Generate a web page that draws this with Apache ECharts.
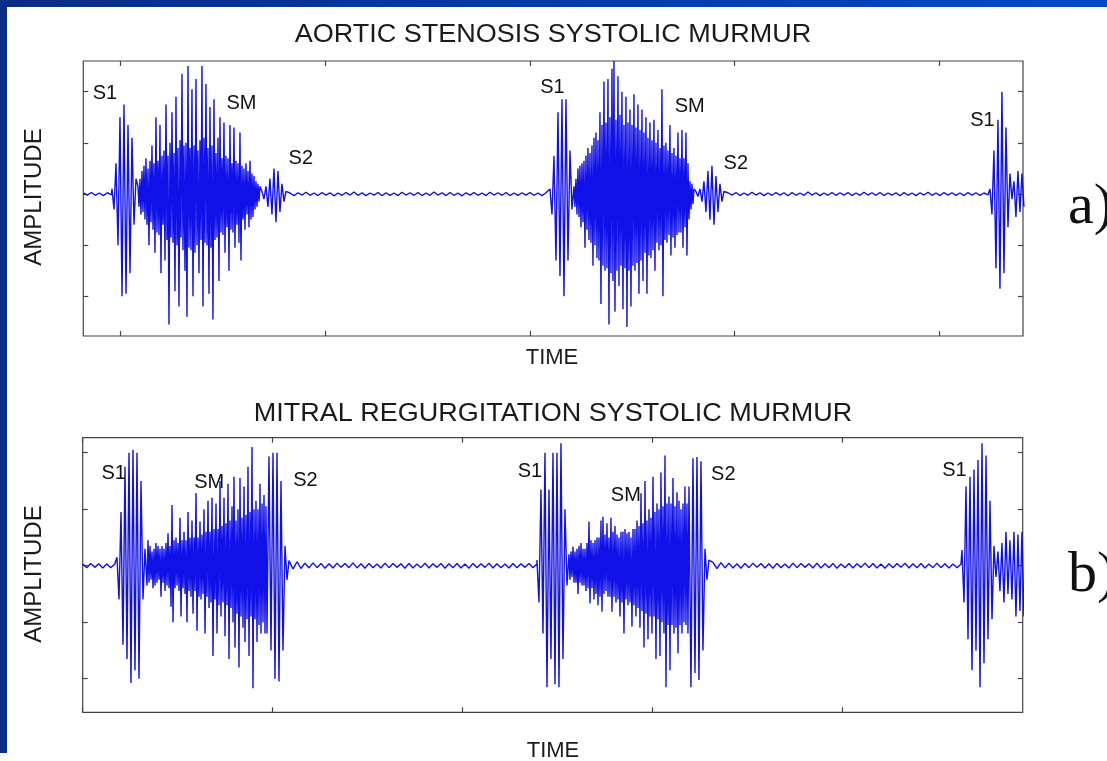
<!DOCTYPE html>
<html>
<head>
<meta charset="utf-8">
<script src="https://cdn.jsdelivr.net/npm/echarts@6/dist/echarts.min.js"></script>
<style>
  html, body { margin: 0; padding: 0; background: #fff; }
  #main { width: 1107px; height: 761px; }
</style>
</head>
<body>
<div id="main"></div>
<script>
// ---- a) aortic stenosis: amplitude samples per segment (read off the trace) ----
const asBase0 = [0.005,-0.004,0.006,-0.005,0.004,-0.006,0.005,-0.003];
const asS1a = [0.02,-0.06,0.12,-0.2,0.3,-0.4,0.35,-0.39,0.27,-0.31,0.22,-0.12,0.06];
const asSMa = [0.03,-0.05,0.06,-0.08,0.09,-0.07,0.11,-0.10,
  0.14,-0.12,0.10,-0.20,0.13,-0.11,0.19,-0.14,0.12,-0.23,
  0.30,-0.15,0.13,-0.16,0.27,-0.31,0.15,-0.12,0.17,-0.26,
  0.35,-0.18,0.15,-0.51,0.20,-0.17,0.32,-0.19,0.16,-0.38,
  0.38,-0.20,0.18,-0.44,0.21,-0.17,0.47,-0.22,0.19,-0.30,
  0.20,-0.48,0.50,-0.21,0.18,-0.22,0.41,-0.40,0.19,-0.23,
  0.45,-0.20,0.17,-0.31,0.21,-0.18,0.50,-0.44,0.22,-0.19,
  0.43,-0.20,0.18,-0.39,0.34,-0.21,0.19,-0.49,0.37,-0.18,
  0.16,-0.17,0.22,-0.34,0.30,-0.15,0.14,-0.16,0.28,-0.23,
  0.15,-0.13,0.14,-0.30,0.27,-0.14,0.12,-0.15,0.26,-0.21,
  0.13,-0.12,0.12,-0.19,0.24,-0.26,0.11,-0.10,0.10,-0.14,
  0.12,-0.08,0.09,-0.13,0.13,-0.10,0.08,-0.09,0.07,-0.06,
  0.05,-0.05,0.04,-0.03,0.03];
const asS2a = [0.01,-0.02,0.03,-0.05,0.06,-0.08,0.10,-0.11,0.09,-0.07,0.04,-0.03,0.01];
const asBase1 = [0.004,-0.006,0.005,-0.004,0.007,-0.005,0.004,-0.006,0.006,-0.004,
  0.005,-0.007,0.004,-0.005,0.006,-0.004,0.008,-0.005,0.005,-0.006,
  0.004,-0.004,0.006,-0.007,0.005,-0.005,0.004,-0.006,0.007,-0.004,
  0.005,-0.005,0.006,-0.006,0.004,-0.005,0.008,-0.004,0.005,-0.006,
  0.006,-0.005,0.004,-0.007,0.005,-0.004,0.006,-0.005,0.004,-0.006,
  0.007,-0.004,0.005,-0.005,0.006,-0.006,0.004,-0.005,0.005,-0.004,
  0.006,-0.005,0.004,-0.006,0.005];
const asS1b = [0.02,-0.08,0.15,-0.26,0.32,-0.32,0.37,-0.40,0.37,-0.26,0.17,-0.06];
const asSMb = [0.03,-0.05,0.06,-0.08,0.10,-0.09,0.11,-0.13,0.12,-0.11,
  0.13,-0.21,0.15,-0.14,0.18,-0.18,0.16,-0.19,0.19,-0.28,
  0.22,-0.20,0.24,-0.25,0.21,-0.26,0.32,-0.43,0.27,-0.28,
  0.44,-0.30,0.28,-0.29,0.45,-0.51,0.30,-0.31,0.49,-0.34,
  0.52,-0.46,0.29,-0.30,0.46,-0.36,0.31,-0.28,0.40,-0.45,
  0.27,-0.29,0.38,-0.52,0.28,-0.30,0.33,-0.44,0.27,-0.28,
  0.39,-0.30,0.26,-0.27,0.35,-0.39,0.25,-0.26,0.33,-0.34,
  0.24,-0.23,0.30,-0.39,0.22,-0.24,0.28,-0.25,0.21,-0.22,
  0.29,-0.30,0.20,-0.19,0.25,-0.22,0.18,-0.20,0.41,-0.40,
  0.19,-0.18,0.20,-0.19,0.17,-0.16,0.27,-0.24,0.16,-0.17,
  0.18,-0.21,0.15,-0.16,0.24,-0.15,0.14,-0.15,0.25,-0.21,
  0.14,-0.13,0.24,-0.24,0.12,-0.10,0.05,-0.06,0.04,-0.04,
  0.02];
const asS2b = [0.01,-0.01,0.02,-0.03,0.05,-0.07,0.09,-0.10,0.11,-0.12,0.07,-0.07,0.04,-0.03,0.01];
const asBase2 = [0.005,-0.004,0.006,-0.006,0.004,-0.005,0.007,-0.004,0.005,-0.006,
  0.004,-0.005,0.006,-0.004,0.005,-0.007,0.006,-0.005,0.004,-0.005,
  0.008,-0.004,0.005,-0.006,0.004,-0.005,0.006,-0.005,0.005,-0.004,
  0.006,-0.006,0.004,-0.005,0.007,-0.004,0.005,-0.005,0.006,-0.006,
  0.004,-0.004,0.005,-0.007,0.006,-0.005,0.004,-0.006,0.005,-0.004,
  0.007,-0.005,0.004,-0.006,0.006,-0.004,0.005,-0.005,0.004,-0.006,
  0.006,-0.004,0.005,-0.005,0.004,-0.003];
const asS1c = [0.02,-0.08,0.17,-0.29,0.29,-0.37,0.40,-0.31,0.26,-0.13,0.08];
const asTail = [-0.02,0.05,-0.09,0.09,-0.07,0.08,-0.05];

// segment start times (s) and sample steps (s)
const asSegStart = [0.327, 0.383, 0.4338, 0.6762, 0.731, 1.2393, 1.2862, 1.5247, 1.5873, 2.0995, 2.1425];
const asSegStep = [0.00782, 0.00391, 0.001955, 0.00391, 0.00782, 0.00391, 0.001955, 0.00391, 0.00782, 0.00391, 0.00391];
const asSegValues = [asBase0, asS1a, asSMa, asS2a, asBase1, asS1b, asSMb, asS2b, asBase2, asS1c, asTail];

// ---- b) mitral regurgitation ----
const mrBase0 = [0.006,-0.007,0.008,-0.006,0.007,-0.008,0.006,-0.007,0.005];
const mrS1a = [0.03,-0.12,0.19,-0.28,0.35,-0.33,0.40,-0.415,0.41,-0.37,0.40,-0.40,0.30,-0.12,0.06];
const mrSMa = [-0.07,0.09,-0.06,0.07,-0.05,0.05,-0.08,0.06,-0.07,0.08,
  -0.06,0.07,-0.05,0.06,-0.11,0.07,-0.06,0.06,-0.09,0.08,
  -0.07,0.115,-0.08,0.07,-0.145,0.215,-0.20,0.09,-0.08,0.10,
  -0.07,0.08,-0.09,0.17,-0.18,0.09,-0.08,0.12,-0.10,0.09,
  -0.20,0.19,-0.09,0.10,-0.11,0.16,-0.17,0.10,-0.09,0.257,
  -0.23,0.10,-0.11,0.156,-0.12,0.11,-0.10,0.20,-0.24,0.12,
  -0.11,0.23,-0.15,0.12,-0.13,0.24,-0.32,0.13,-0.12,0.22,
  -0.24,0.13,-0.14,0.30,-0.18,0.14,-0.13,0.24,-0.25,0.15,
  -0.14,0.29,-0.33,0.16,-0.15,0.21,-0.20,0.315,-0.29,0.16,
  -0.17,0.20,-0.36,0.31,-0.18,0.17,-0.22,0.28,-0.27,0.18,
  -0.19,0.35,-0.32,0.19,-0.18,0.42,-0.434,0.20,-0.19,0.23,
  -0.27,0.20,-0.21,0.29,-0.24,0.22,-0.20,0.25,-0.24,0.21,
  -0.24];
const mrS2a = [0.386,-0.30,0.40,-0.40,0.40,-0.41,0.30,-0.30,0.07,-0.05];
const mrBase1 = [0.018,-0.012,0.014,-0.010,0.009,-0.008,0.010,-0.007,0.008,-0.009,
  0.007,-0.008,0.009,-0.006,0.008,-0.007,0.010,-0.008,0.007,-0.009,
  0.008,-0.007,0.006,-0.008,0.009,-0.007,0.008,-0.006,0.007,-0.009,
  0.008,-0.008,0.006,-0.007,0.009,-0.008,0.007,-0.006,0.008,-0.009,
  0.007,-0.007,0.008,-0.008,0.006,-0.009,0.008,-0.007,0.007,-0.006,
  0.009,-0.008,0.007,-0.007,0.006,-0.008,0.008,-0.007,0.007,-0.006,
  0.008,-0.007,0.006];
const mrS1b = [0.02,-0.13,0.27,-0.24,0.40,-0.43,0.27,-0.33,0.40,-0.42,0.40,-0.43,0.433,-0.33,0.20,-0.07];
const mrSMb = [0.04,-0.05,0.05,-0.04,0.067,-0.06,0.05,-0.06,0.06,-0.10,
  0.07,-0.06,0.08,-0.07,0.06,-0.07,0.06,-0.09,0.08,-0.08,
  0.156,-0.133,0.09,-0.08,0.08,-0.12,0.09,-0.10,0.10,-0.14,
  0.10,-0.11,0.16,-0.163,0.173,-0.10,0.11,-0.09,0.15,-0.11,
  0.10,-0.11,0.17,-0.163,0.12,-0.11,0.14,-0.13,0.11,-0.12,
  0.10,-0.18,0.12,-0.13,0.12,-0.24,0.13,-0.12,0.115,-0.14,
  0.12,-0.13,0.10,-0.215,0.13,-0.14,0.13,-0.18,0.16,-0.15,
  0.14,-0.22,0.256,-0.16,0.15,-0.29,0.30,-0.17,0.16,-0.26,
  0.20,-0.18,0.17,-0.24,0.315,-0.18,0.19,-0.33,0.22,-0.19,
  0.20,-0.32,0.33,-0.20,0.21,-0.24,0.39,-0.43,0.22,-0.21,
  0.245,-0.37,0.22,-0.21,0.31,-0.24,0.21,-0.22,0.26,-0.31,
  0.23,-0.21,0.20,-0.24,0.22,-0.20,0.28,-0.21,0.22,-0.24,
  0.28];
const mrS2b = [-0.43,0.38,-0.38,0.385,-0.405,0.37,-0.30,0.06,-0.05,0.02];
const mrBase2 = [0.012,-0.010,0.011,-0.008,0.009,-0.008,0.007,-0.009,0.008,-0.007,
  0.009,-0.006,0.008,-0.008,0.007,-0.009,0.008,-0.007,0.006,-0.008,
  0.009,-0.007,0.008,-0.006,0.007,-0.008,0.009,-0.008,0.007,-0.007,
  0.008,-0.009,0.006,-0.007,0.008,-0.008,0.007,-0.006,0.009,-0.007,
  0.008,-0.008,0.006,-0.009,0.007,-0.007,0.008,-0.006,0.009,-0.008,
  0.007,-0.007,0.008,-0.008,0.006,-0.007,0.009,-0.007,0.007,-0.008,
  0.006,-0.007,0.005];
const mrS1c = [0.055,-0.13,0.28,-0.26,0.315,-0.37,0.34,-0.30,0.374,-0.43,0.433,-0.345,0.39,-0.26,0.23,-0.19,0.07];
const mrTail = [-0.04,0.05,-0.09,0.08,-0.13,0.12,-0.10,0.09,-0.12,0.12,-0.18,0.11,-0.16,0.12,-0.18];

const mrSegStart = [0, 0.0722, 0.1354, 0.3922, 0.4343, 0.9564, 1.0238, 1.2806, 1.3269, 1.8512, 1.9227];
const mrSegStep = [0.00842, 0.00421, 0.002105, 0.00421, 0.00842, 0.00421, 0.002105, 0.00421, 0.00842, 0.00421, 0.00421];
const mrSegValues = [mrBase0, mrS1a, mrSMa, mrS2a, mrBase1, mrS1b, mrSMb, mrS2b, mrBase2, mrS1c, mrTail];

// axis ranges and tick values
const asTimeRange = [0.3269, 2.1641];
const mrTimeRange = [0, 1.979];
const asTimeTicks = [0.4, 0.8, 1.2, 1.6, 2.0];
const mrTimeTicks = [0, 0.4, 0.8, 1.2, 1.6];
const asAmpRange = [-0.555, 0.52];
const mrAmpRange = [-0.519, 0.453];
const ampTicks = [-0.4, -0.2, 0, 0.2, 0.4];

// annotation labels
const asLabelNames = ['S1', 'SM', 'S2', 'S1', 'SM', 'S2', 'S1'];
const asLabelTime = [0.3693, 0.6362, 0.7521, 1.2442, 1.5124, 1.6026, 2.0849];
const asLabelAmp = [0.394, 0.354, 0.138, 0.416, 0.344, 0.12, 0.289];
const mrLabelNames = ['S1', 'SM', 'S2', 'S1', 'SM', 'S2', 'S1'];
const mrLabelTime = [0.0653, 0.2663, 0.469, 0.9417, 1.1434, 1.3486, 1.8354];
const mrLabelAmp = [0.327, 0.293, 0.303, 0.332, 0.247, 0.324, 0.337];

const buildTrace = (starts, steps, values) => {
  const out = [];
  values.forEach((arr, s) => {
    arr.forEach((v, i) => out.push([starts[s] + i * steps[s], v]));
  });
  return out;
};

const SANS = "'Liberation Sans', Arial, sans-serif";
const SERIF = "'Liberation Serif', 'Times New Roman', serif";
const FRAME = '#454545';
const WAVE = '#1010e8';

const tickAxis = (grid, pos, range, ticks) => ({
  type: 'value', gridIndex: grid, position: pos, min: range[0], max: range[1],
  axisLine: { show: false, onZero: false },
  splitLine: { show: false },
  axisLabel: { show: false, customValues: ticks },
  axisTick: { show: true, inside: true, length: 5, customValues: ticks,
    lineStyle: { color: FRAME, width: 1.2 } }
});

const chart = echarts.init(document.getElementById('main'), null, { renderer: 'canvas' });

const waveSeries = (xi, yi, data) => ({
  type: 'line', xAxisIndex: xi, yAxisIndex: yi, data,
  showSymbol: false, symbol: 'none', silent: true, animation: false,
  lineStyle: { color: WAVE, width: 1.4 }, z: 2
});

const text = (x, y, str, size, opts) => {
  const o = opts || {};
  return {
    type: 'text', x, y, z: 10,
    rotation: o.rotation || 0, scaleX: o.scaleX || 1,
    style: { text: str, fontFamily: o.font || SANS, fontSize: size, fill: o.fill || '#1a1a1a',
      align: o.align || 'center', verticalAlign: 'middle' }
  };
};

chart.setOption({
  backgroundColor: '#ffffff',
  animation: false,
  grid: [
    { left: 83.3, top: 61, width: 939.7, height: 275, show: true, borderColor: FRAME, borderWidth: 1.2 },
    { left: 82.7, top: 437.7, width: 940, height: 274.6, show: true, borderColor: FRAME, borderWidth: 1.2 }
  ],
  xAxis: [
    tickAxis(0, 'bottom', asTimeRange, asTimeTicks),
    tickAxis(0, 'top', asTimeRange, asTimeTicks),
    tickAxis(1, 'bottom', mrTimeRange, mrTimeTicks),
    tickAxis(1, 'top', mrTimeRange, mrTimeTicks)
  ],
  yAxis: [
    tickAxis(0, 'left', asAmpRange, ampTicks),
    tickAxis(0, 'right', asAmpRange, ampTicks),
    tickAxis(1, 'left', mrAmpRange, ampTicks),
    tickAxis(1, 'right', mrAmpRange, ampTicks)
  ],
  series: [
    waveSeries(0, 0, buildTrace(asSegStart, asSegStep, asSegValues)),
    waveSeries(2, 2, buildTrace(mrSegStart, mrSegStep, mrSegValues))
  ]
});

// S1 / SM / S2 annotations placed through the axes' own scales
const annotate = (gridIdx, names, times, amps) => names.map((n, i) => {
  const p = chart.convertToPixel({ xAxisIndex: gridIdx * 2, yAxisIndex: gridIdx * 2 }, [times[i], amps[i]]);
  return text(p[0], p[1], n, 20, { fill: '#111' });
});

const staticGraphic = [
  { type: 'rect', shape: { x: 0, y: 0, width: 1107, height: 7 }, z: 20,
    style: { fill: new echarts.graphic.LinearGradient(0, 0, 1, 0, [
      { offset: 0, color: '#0a2c86' }, { offset: 1, color: '#0049c9' }]) } },
  { type: 'rect', shape: { x: 0, y: 0, width: 7, height: 753 }, z: 20,
    style: { fill: '#0a2e88' } },
  text(553, 35, 'AORTIC STENOSIS SYSTOLIC MURMUR', 25, { scaleX: 1.08 }),
  text(553, 414, 'MITRAL REGURGITATION SYSTOLIC MURMUR', 25, { scaleX: 1.08 }),
  text(552, 358, 'TIME', 22),
  text(553, 751, 'TIME', 22),
  text(34, 197, 'AMPLITUDE', 24, { rotation: Math.PI / 2 }),
  text(34, 574, 'AMPLITUDE', 24, { rotation: Math.PI / 2 }),
  text(1068, 208, 'a)', 58, { font: SERIF, fill: '#111', align: 'left' }),
  text(1068, 576, 'b)', 58, { font: SERIF, fill: '#111', align: 'left' })
];

chart.setOption({
  graphic: staticGraphic.concat(
    annotate(0, asLabelNames, asLabelTime, asLabelAmp),
    annotate(1, mrLabelNames, mrLabelTime, mrLabelAmp)
  )
});
</script>
</body>
</html>
